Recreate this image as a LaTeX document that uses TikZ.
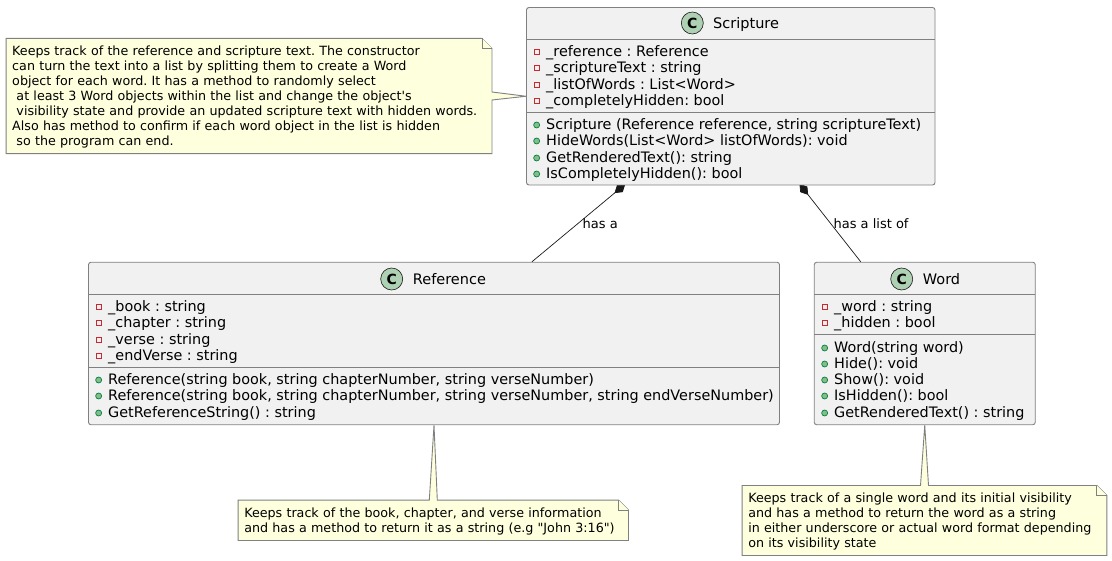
\documentclass[tikz,border=0pt]{standalone}
\usepackage{fontspec}
\newfontfamily\umlfont{DejaVu Sans}
\usetikzlibrary{calc,arrows.meta,backgrounds}
\definecolor{boxfill}{HTML}{F1F1F1}
\definecolor{notefill}{HTML}{FEFFDD}
\definecolor{umlline}{HTML}{181818}
\definecolor{boxline}{HTML}{808080}
\definecolor{spotfill}{HTML}{ADD1B2}
\definecolor{privred}{HTML}{C82930}
\definecolor{pubfill}{HTML}{84BE84}
\definecolor{publine}{HTML}{038048}
\tikzset{
  classbox/.style={draw=boxline,fill=boxfill,line width=0.9pt,rounded corners=2.5pt,inner sep=0pt},
  classline/.style={draw=boxline,line width=0.9pt},
  noteline/.style={draw=boxline,fill=notefill,line width=0.9pt},
  notetext/.style={inner sep=0pt,inner xsep=6pt,align=left,execute at begin node={\rule{0pt}{11.7pt}},font=\umlfont\frenchspacing\fontsize{12.7}{15.13}\selectfont},
  spot/.style={circle,draw=umlline,fill=spotfill,line width=0.6pt,minimum size=22pt,inner sep=0pt,font=\umlfont\bfseries\fontsize{14}{16}\selectfont},
  classtitle/.style={anchor=west,inner sep=0pt,text height=14pt,text depth=3pt,font=\umlfont\fontsize{14.5}{16.3}\selectfont},
  member/.style={anchor=west,inner sep=0pt,text height=13.5pt,text depth=3pt,font=\umlfont\frenchspacing\fontsize{14.4}{16.3}\selectfont},
  privmark/.style={draw=privred,line width=0.7pt,rectangle,minimum size=5.5pt,inner sep=0pt,yshift=-1pt},
  pubmark/.style={draw=publine,fill=pubfill,line width=0.7pt,circle,minimum size=6pt,inner sep=0pt,yshift=-1pt},
  priv/.style={member,label={[privmark,label distance=6pt]left:{}}},
  pub/.style={member,label={[pubmark,label distance=6pt]left:{}}},
  composition/.style={draw=umlline,line width=0.7pt,shorten >=-2pt,-{Diamond[length=14pt,width=9pt,fill=umlline]}},
  edgelabel/.style={inner sep=4.5pt,text=black,font=\umlfont\fontsize{13}{15.13}\selectfont}
}
\begin{document}
\begin{tikzpicture}[x=1pt,y=-1pt]
\useasboundingbox (0,0) rectangle (1112,561);
\node[classbox,minimum width=408.5pt,minimum height=177.5pt] (Scripture) at (730.75,96.25) {};
\node[classbox,minimum width=691pt,minimum height=162.5pt] (Reference) at (434,343.5) {};
\node[classbox,minimum width=221pt,minimum height=162.5pt] (Word) at (924.75,343.5) {};
\draw[classline] (526.5,39.3) -- (935,39.3);
\draw[classline] (526.5,112.3) -- (935,112.3);
\draw[classline] (88.5,294.3) -- (779.5,294.3);
\draw[classline] (88.5,367.3) -- (779.5,367.3);
\draw[classline] (814.25,294.3) -- (1035.25,294.3);
\draw[classline] (814.25,334.9) -- (1035.25,334.9);
\node[spot] (ScriptureSpot) at (692.3,23) {C};
\node[spot] (ReferenceSpot) at (391.7,279) {C};
\node[spot] (WordSpot) at (901.7,279) {C};
\node[classtitle] (ScriptureTitle) at (713,23) {Scripture};
\node[classtitle] (ReferenceTitle) at (412.7,279) {Reference};
\node[classtitle] (WordTitle) at (922.7,279) {Word};
% Scripture
\node[priv] (sField1) at (546,51) {\_reference : Reference};
\node[priv] (sField2) at (546,67) {\_scriptureText : string};
\node[priv] (sField3) at (546,84) {\_listOfWords : List<Word>};
\node[priv] (sField4) at (546,100) {\_completelyHidden: bool};
\node[pub] (sMethod1) at (546,124) {Scripture (Reference reference, string scriptureText)};
\node[pub] (sMethod2) at (546,140) {HideWords(List<Word> listOfWords): void};
\node[pub] (sMethod3) at (546,157) {GetRenderedText(): string};
\node[pub] (sMethod4) at (546,173) {IsCompletelyHidden(): bool};
% Reference
\node[priv] (rField1) at (108,306) {\_book : string};
\node[priv] (rField2) at (108,322) {\_chapter : string};
\node[priv] (rField3) at (108,339) {\_verse : string};
\node[priv] (rField4) at (108,355) {\_endVerse : string};
\node[pub] (rMethod1) at (108,379) {Reference(string book, string chapterNumber, string verseNumber)};
\node[pub] (rMethod2) at (108,395) {Reference(string book, string chapterNumber, string verseNumber, string endVerseNumber)};
\node[pub] (rMethod3) at (108,412) {GetReferenceString() : string};
% Word
\node[priv] (wField1) at (834,306) {\_word : string};
\node[priv] (wField2) at (834,322) {\_hidden : bool};
\node[pub] (wMethod1) at (834,347) {Word(string word)};
\node[pub] (wMethod2) at (834,363) {Hide(): void};
\node[pub] (wMethod3) at (834,379) {Show(): void};
\node[pub] (wMethod4) at (834,395) {IsHidden(): bool};
\node[pub] (wMethod5) at (834,412) {GetRenderedText() : string};
% notes
\node[notetext,text width=473.5pt,minimum height=114.8pt] (ScriptureNote) at (249,96) {Keeps track of the reference and scripture text. The constructor\\can turn the text into a list by splitting them to create a Word\\object for each word. It has a method to randomly select\\\ at least 3 Word objects within the list and change the object's\\\ visibility state and provide an updated scripture text with hidden words.\\Also has method to confirm if each word object in the list is hidden\\\ so the program can end.};
\node[notetext,text width=378pt,minimum height=40pt] (ReferenceNote) at (433.3,520.3) {Keeps track of the book, chapter, and verse information\\and has a method to return it as a string (e.g "John 3:16")};
\node[notetext,text width=352.4pt,minimum height=69.6pt] (WordNote) at (924.5,520.5) {Keeps track of a single word and its initial visibility\\and has a method to return the word as a string\\in either underscore or actual word format depending\\on its visibility state};
\begin{scope}[on background layer]
\draw[composition] (Reference) -- (Scripture) node[edgelabel,midway,right] (hasA) {has a};
\draw[composition] (Word) -- (Scripture) node[edgelabel,midway,right,xshift=-2pt] (hasList) {has a list of};
\draw[noteline] (ScriptureNote.north west) -- ($(ScriptureNote.north east)+(-10,0)$) -- ($(ScriptureNote.north east)+(0,10)$) -- ($(ScriptureNote.east)+(0,-4)$) -- (Scripture.west) -- ($(ScriptureNote.east)+(0,4)$) -- (ScriptureNote.south east) -- (ScriptureNote.south west) -- cycle;
\draw[noteline] ($(ScriptureNote.north east)+(-10,0)$) -- ($(ScriptureNote.north east)+(-10,10)$) -- ($(ScriptureNote.north east)+(0,10)$);
\draw[noteline] (ReferenceNote.north west) -- ($(ReferenceNote.north)+(-4,0)$) -- (Reference.south) -- ($(ReferenceNote.north)+(4,0)$) -- ($(ReferenceNote.north east)+(-10,0)$) -- ($(ReferenceNote.north east)+(0,10)$) -- (ReferenceNote.south east) -- (ReferenceNote.south west) -- cycle;
\draw[noteline] ($(ReferenceNote.north east)+(-10,0)$) -- ($(ReferenceNote.north east)+(-10,10)$) -- ($(ReferenceNote.north east)+(0,10)$);
\draw[noteline] (WordNote.north west) -- ($(WordNote.north)+(-4,0)$) -- (Word.south) -- ($(WordNote.north)+(4,0)$) -- ($(WordNote.north east)+(-10,0)$) -- ($(WordNote.north east)+(0,10)$) -- (WordNote.south east) -- (WordNote.south west) -- cycle;
\draw[noteline] ($(WordNote.north east)+(-10,0)$) -- ($(WordNote.north east)+(-10,10)$) -- ($(WordNote.north east)+(0,10)$);
\end{scope}
\end{tikzpicture}
\end{document}
